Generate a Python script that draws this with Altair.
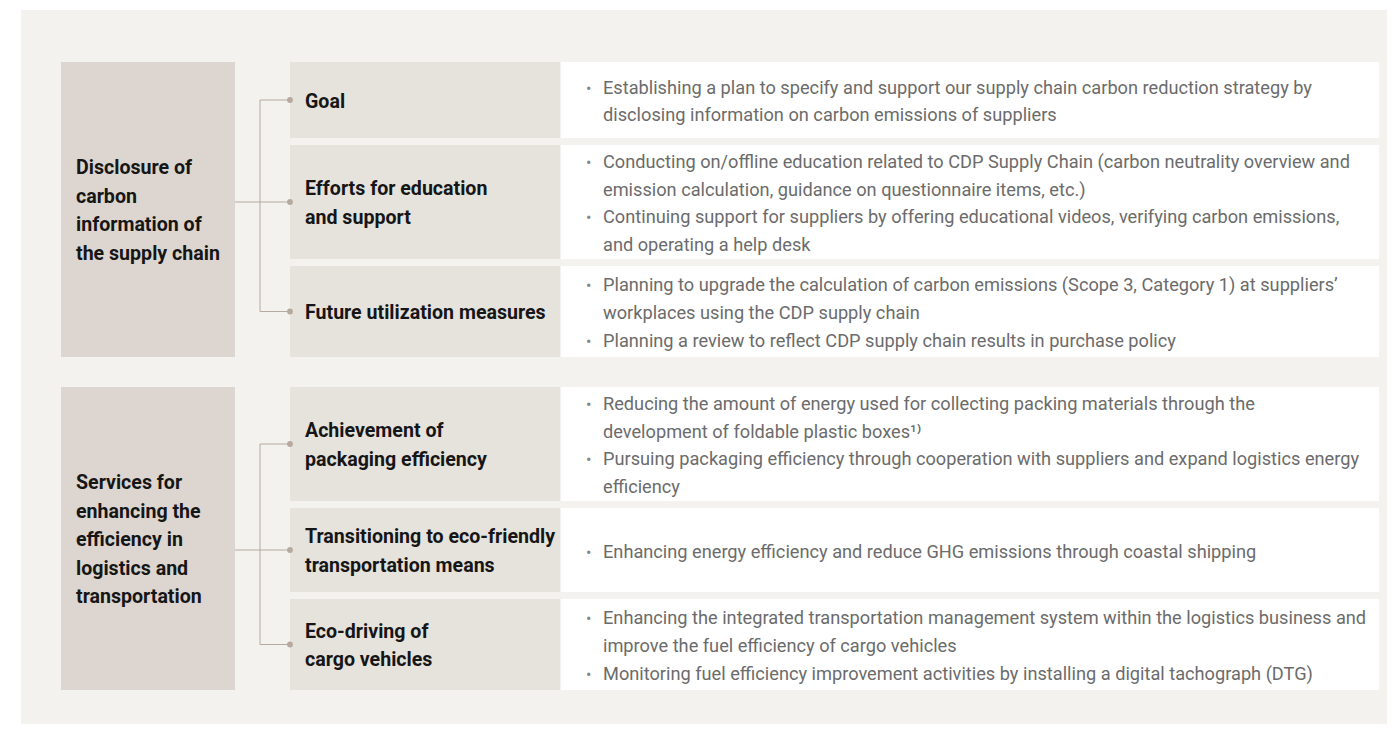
import altair as alt
import pandas as pd

# ---------------- data (text content of the diagram) ----------------
sections = [
    "Disclosure of\ncarbon\ninformation of\nthe supply chain",
    "Services for\nenhancing the\nefficiency in\nlogistics and\ntransportation",
]
row_section = [0, 0, 0, 1, 1, 1]
row_labels = [
    "Goal",
    "Efforts for education\nand support",
    "Future utilization measures",
    "Achievement of\npackaging efficiency",
    "Transitioning to eco-friendly\ntransportation means",
    "Eco-driving of\ncargo vehicles",
]
row_bullets = [
    ["Establishing a plan to specify and support our supply chain carbon reduction strategy by\ndisclosing information on carbon emissions of suppliers"],
    ["Conducting on/offline education related to CDP Supply Chain (carbon neutrality overview and\nemission calculation, guidance on questionnaire items, etc.)",
     "Continuing support for suppliers by offering educational videos, verifying carbon emissions,\nand operating a help desk"],
    ["Planning to upgrade the calculation of carbon emissions (Scope 3, Category 1) at suppliers’\nworkplaces using the CDP supply chain",
     "Planning a review to reflect CDP supply chain results in purchase policy"],
    ["Reducing the amount of energy used for collecting packing materials through the\ndevelopment of foldable plastic boxes¹⁾",
     "Pursuing packaging efficiency through cooperation with suppliers and expand logistics energy\nefficiency"],
    ["Enhancing energy efficiency and reduce GHG emissions through coastal shipping"],
    ["Enhancing the integrated transportation management system within the logistics business and\nimprove the fuel efficiency of cargo vehicles",
     "Monitoring fuel efficiency improvement activities by installing a digital tachograph (DTG)"],
]

# ---------------- layout (page pixels) ----------------
W, H = 1379, 716
TOP = 62
ROW_H = [76, 114, 91, 114, 84, 91]
ROW_GAP, SEC_GAP = 7, 30
PANEL = (21, 10)
LEFT_X = (61, 235)
CONN_X = 260
MID_X = (290, 560)
WHITE_X = (561, 1379)
BULLET_X, TEXT_X = 586, 603
LABEL_X, SEC_X = 305, 76
LH_BUL, LH_LAB = 27.8, 28.5
F_LAB, F_BUL = 19.6, 18.2
DY_BUL, DY_LAB = 2.5, 1.5

tops, bottoms = [], []
y = TOP
for i, h in enumerate(ROW_H):
    if i > 0:
        y += SEC_GAP if row_section[i] != row_section[i - 1] else ROW_GAP
    tops.append(y)
    bottoms.append(y + h)
    y += h
centers = [(t + b) / 2 for t, b in zip(tops, bottoms)]


def first_line(center, text, lh):
    n = len(text.split("\n"))
    return center - (n - 1) / 2 * lh + DY_LAB


rows = pd.DataFrame({
    "label": row_labels, "sec": row_section, "top": tops, "bottom": bottoms, "cy": centers,
    "ly": [first_line(c, t, LH_LAB) for c, t in zip(centers, row_labels)],
    "mx1": MID_X[0], "mx2": MID_X[1], "wx1": WHITE_X[0], "wx2": WHITE_X[1],
    "lx": LABEL_X, "cx1": CONN_X, "cx2": MID_X[0],
})

sec_rows = []
for s, name in enumerate(sections):
    idx = [i for i, v in enumerate(row_section) if v == s]
    t, b = tops[idx[0]], bottoms[idx[-1]]
    mid = centers[idx[len(idx) // 2]]
    sec_rows.append({"name": name, "top": t, "bottom": b,
                     "ty": first_line((t + b) / 2, name, LH_LAB),
                     "x1": LEFT_X[0], "x2": LEFT_X[1], "tx": SEC_X,
                     "vy1": centers[idx[0]], "vy2": centers[idx[-1]], "midy": mid,
                     "cx": CONN_X})
secs = pd.DataFrame(sec_rows)

bul = []
for i, blist in enumerate(row_bullets):
    n = sum(len(b.split("\n")) for b in blist)
    k0 = 0
    for b in blist:
        m = len(b.split("\n"))
        first = centers[i] + (k0 - (n - 1) / 2) * LH_BUL + DY_BUL
        bul.append({"text": b, "ty": first, "tx": TEXT_X, "bx": BULLET_X, "dot": "•"})
        k0 += m
buls = pd.DataFrame(bul)

panel = pd.DataFrame({"x1": [PANEL[0]], "x2": [W + 8], "y1": [PANEL[1]], "y2": [H + 8]})

xs = alt.Scale(domain=[8, W + 8], nice=False, zero=False)
ys = alt.Scale(domain=[8, H + 8], nice=False, zero=False, reverse=True)


def X(f):
    return alt.X(f"{f}:Q", scale=xs, axis=None)


def Y(f):
    return alt.Y(f"{f}:Q", scale=ys, axis=None)


bg = alt.Chart(panel).mark_rect(color="#f3f2ee").encode(
    x=X("x1"), x2="x2", y=Y("y1"), y2="y2")

left_boxes = alt.Chart(secs).mark_rect(color="#ddd6d0").encode(
    x=X("x1"), x2="x2", y=Y("top"), y2="bottom")

mid_boxes = alt.Chart(rows).mark_rect(color="#e6e3dd").encode(
    x=X("mx1"), x2="mx2", y=Y("top"), y2="bottom")

white_boxes = alt.Chart(rows).mark_rect(color="#ffffff").encode(
    x=X("wx1"), x2="wx2", y=Y("top"), y2="bottom")

conn_color = "#b6aa9e"
vert = alt.Chart(secs).mark_rule(color=conn_color, strokeWidth=1).encode(
    x=X("cx"), y=Y("vy1"), y2="vy2")
stub = alt.Chart(secs).mark_rule(color=conn_color, strokeWidth=1).encode(
    x=X("x2"), x2="cx", y=Y("midy"))
branches = alt.Chart(rows).mark_rule(color=conn_color, strokeWidth=1).encode(
    x=X("cx1"), x2="cx2", y=Y("cy"))
dots = alt.Chart(rows).mark_circle(color=conn_color, size=34, opacity=1).encode(
    x=X("cx2"), y=Y("cy"))

sec_text = alt.Chart(secs).mark_text(
    align="left", baseline="middle", font="Roboto", fontSize=F_LAB, fontWeight="bold",
    color="#161616", lineBreak="\n", lineHeight=LH_LAB).encode(
    x=X("tx"), y=Y("ty"), text="name:N")

row_text = alt.Chart(rows).mark_text(
    align="left", baseline="middle", font="Roboto", fontSize=F_LAB, fontWeight="bold",
    color="#161616", lineBreak="\n", lineHeight=LH_LAB).encode(
    x=X("lx"), y=Y("ly"), text="label:N")

bullet_dots = alt.Chart(buls).mark_text(
    align="left", baseline="middle", font="Roboto", fontSize=16, color="#858585").encode(
    x=X("bx"), y=Y("ty"), text="dot:N")

bullet_text = alt.Chart(buls).mark_text(
    align="left", baseline="middle", font="Roboto", fontSize=F_BUL, color="#6b6b6b",
    lineBreak="\n", lineHeight=LH_BUL).encode(
    x=X("tx"), y=Y("ty"), text="text:N")

chart = alt.layer(
    bg, left_boxes, mid_boxes, white_boxes, vert, stub, branches, dots,
    sec_text, row_text, bullet_dots, bullet_text,
).properties(
    width=W, height=H, padding=0, autosize=alt.AutoSizeParams(type="none"),
    background="#ffffff",
).configure_view(stroke=None)

chart.save("out.html", embed_options={"renderer": "svg", "actions": False})
